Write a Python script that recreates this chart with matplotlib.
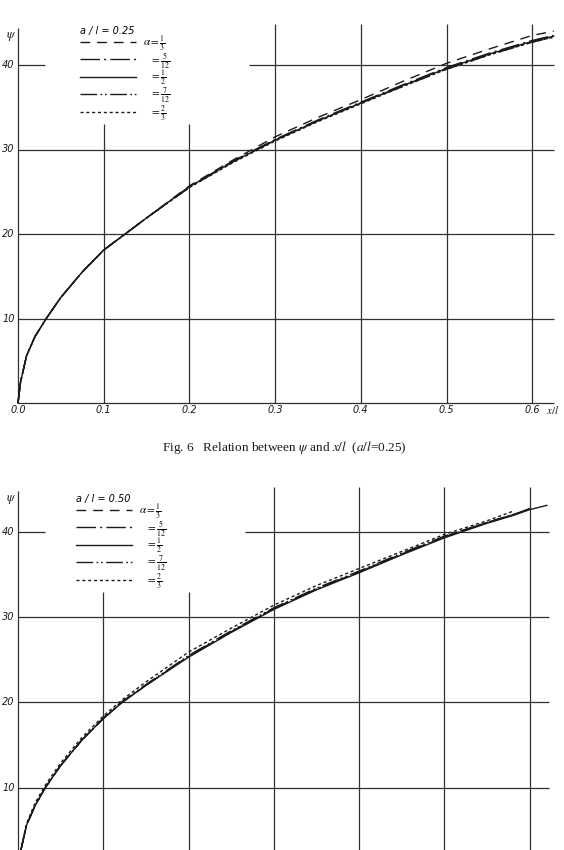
import numpy as np
import matplotlib
matplotlib.use("Agg")
import matplotlib.pyplot as plt

plt.rcParams['mathtext.fontset'] = 'stix'

# ---- data ----
x_ticks = [0.0, 0.1, 0.2, 0.3, 0.4, 0.5, 0.6]
x_tick_labels = ["0.0", "0.1", "0.2", "0.3", "0.4", "0.5", "0.6"]
y_ticks = [10, 20, 30, 40]
alpha_labels = [r"$\alpha=\frac{1}{3}$", r"$\;\;\;=\frac{5}{12}$", r"$\;\;\;=\frac{1}{2}$",
                r"$\;\;\;=\frac{7}{12}$", r"$\;\;\;=\frac{2}{3}$"]

# Fig. 6   a/l = 0.25
x_top = [0, 0.003, 0.01, 0.02, 0.033, 0.05, 0.075, 0.1, 0.125, 0.15, 0.2,
         0.25, 0.3, 0.35, 0.4, 0.45, 0.5, 0.55, 0.6, 0.625]
top_a13 = [0, 2.5, 5.6, 7.9, 10.0, 12.5, 15.5, 18.1, 20.0, 21.9, 25.7,
           28.7, 31.5, 33.8, 35.9, 38.1, 40.2, 41.9, 43.5, 44.0]
top_a512 = [0, 2.5, 5.6, 7.9, 10.0, 12.5, 15.5, 18.1, 20.0, 21.9, 25.6,
            28.6, 31.2, 33.5, 35.6, 37.7, 39.7, 41.4, 42.9, 43.5]
top_a12 = [0, 2.5, 5.6, 7.9, 10.0, 12.5, 15.5, 18.1, 20.0, 21.9, 25.6,
           28.5, 31.1, 33.4, 35.5, 37.6, 39.6, 41.3, 42.8, 43.4]
top_a712 = [0, 2.5, 5.6, 7.9, 10.0, 12.5, 15.5, 18.1, 20.0, 21.9, 25.5,
            28.5, 31.1, 33.4, 35.5, 37.5, 39.5, 41.2, 42.7, 43.3]
top_a23 = [0, 2.5, 5.6, 7.9, 10.0, 12.5, 15.5, 18.1, 20.0, 21.9, 25.5,
           28.4, 31.0, 33.3, 35.4, 37.5, 39.5, 41.2, 42.7, 43.3]

# Fig. 7   a/l = 0.50
x_bot = [0, 0.003, 0.01, 0.02, 0.032, 0.05, 0.075, 0.1, 0.122, 0.15, 0.2,
         0.25, 0.3, 0.35, 0.4, 0.45, 0.5, 0.55, 0.58, 0.6, 0.62]
bot_a13 = [0, 2.5, 5.6, 7.9, 10.0, 12.6, 15.6, 18.1, 20.0, 22.0, 25.4,
           28.3, 31.0, 33.3, 35.3, 37.4, 39.4, 41.1, 42.0, 42.7]
bot_a512 = [0, 2.5, 5.6, 7.9, 10.0, 12.6, 15.6, 18.1, 20.0, 22.0, 25.4,
            28.3, 31.0, 33.3, 35.3, 37.4, 39.4, 41.1, 42.0, 42.7]
bot_a12 = [0, 2.5, 5.6, 7.9, 10.0, 12.6, 15.6, 18.1, 20.0, 22.0, 25.3,
           28.2, 30.9, 33.2, 35.2, 37.3, 39.3, 41.0, 41.9, 42.6, 43.1]
bot_a712 = [0, 2.5, 5.6, 7.9, 10.0, 12.6, 15.6, 18.2, 20.1, 22.1, 25.5,
            28.4, 31.1, 33.4, 35.4, 37.5, 39.5, 41.1, 42.0, 42.7]
bot_a23 = [0, 2.6, 5.8, 8.2, 10.3, 12.9, 15.9, 18.4, 20.3, 22.4, 25.9,
           28.7, 31.4, 33.7, 35.7, 37.7, 39.7, 41.3, 42.4]

styles = [(0, (7, 5)), (0, (14, 3, 1.5, 3)), '-', (0, (12, 2.5, 1.2, 2, 1.2, 2.5)), (0, (2.2, 2))]
ink = '#1a1a1a'
grid_c = '#303030'


def frame(ax, xend, axis_top, gap40, short_top):
    # axes lines and grid, interrupted round the legend like the drawing
    ax.vlines(0, 0, axis_top, color=grid_c, lw=0.9)
    ax.hlines(0, 0, xend, color=grid_c, lw=0.9)
    for yv in y_ticks[:-1]:
        ax.hlines(yv, 0, xend, color=grid_c, lw=0.9)
    ax.hlines(40, 0, gap40[0], color=grid_c, lw=0.9)
    ax.hlines(40, gap40[1], xend, color=grid_c, lw=0.9)
    for xv in x_ticks[1:]:
        top = short_top if xv < 0.25 else axis_top + 0.5
        ax.vlines(xv, 0, top, color=grid_c, lw=0.9)
    for yv in y_ticks:
        ax.text(-0.004, yv, str(yv), ha='right', va='center', fontsize=7,
                style='italic', color=ink)
    ax.text(-0.008, axis_top - 1.0, r"$\psi$", ha='center', va='center',
            fontsize=9, color=ink)


def curves(ax, x, series, title):
    for vals, ls, lab in zip(series, styles, alpha_labels):
        ax.plot(x[:len(vals)], vals, color=ink, lw=1.0, ls=ls, label=lab)
    leg = ax.legend(loc='upper left', frameon=False, fontsize=8,
                    handlelength=5.0, handletextpad=0.7, labelspacing=-0.15,
                    borderpad=0, borderaxespad=0, title=title,
                    title_fontproperties={'size': 7, 'style': 'italic'})
    leg._legend_box.align = 'left'
    return leg


fig = plt.figure(figsize=(5.64, 8.5), dpi=100)

# top chart
ax1 = fig.add_axes([0, 390 / 850, 1, 460 / 850])
ax1.set_xlim(-18 / 857, 546 / 857)
ax1.set_ylim((403 - 460) / 8.45, 403 / 8.45)
ax1.axis('off')
frame(ax1, 0.625, 44.4, (0.031, 0.27), 33.0)
for xv, lab in zip(x_ticks, x_tick_labels):
    ax1.text(xv, -0.8, lab, ha='center', va='center', fontsize=7,
             style='italic', color=ink)
ax1.text(0.624, -0.8, r"$x/l$", ha='center', va='center', fontsize=8, color=ink)
leg1 = curves(ax1, x_top, [top_a13, top_a512, top_a12, top_a712, top_a23], "a / l = 0.25")
leg1.set_bbox_to_anchor((80 / 564, 1 - 26 / 850), transform=fig.transFigure)

fig.text(284 / 564, 1 - 447 / 850,
         r"Fig. 6   Relation between $\psi$ and $x/l$  ($a/l$=0.25)",
         ha='center', va='center', fontsize=9.5, family='Liberation Serif', color=ink)

# bottom chart (cut by the page edge)
ax2 = fig.add_axes([0, 0, 1, 380 / 850])
ax2.set_xlim(-18 / 853, 546 / 853)
ax2.set_ylim((873 - 850) / 8.53, (873 - 470) / 8.53)
ax2.axis('off')
frame(ax2, 0.622, 44.8, (0.032, 0.266), 32.9)
leg2 = curves(ax2, x_bot, [bot_a13, bot_a512, bot_a12, bot_a712, bot_a23], "a / l = 0.50")
leg2.set_bbox_to_anchor((76 / 564, 1 - 494 / 850), transform=fig.transFigure)

fig.savefig("out.png", dpi=100, facecolor='white')
